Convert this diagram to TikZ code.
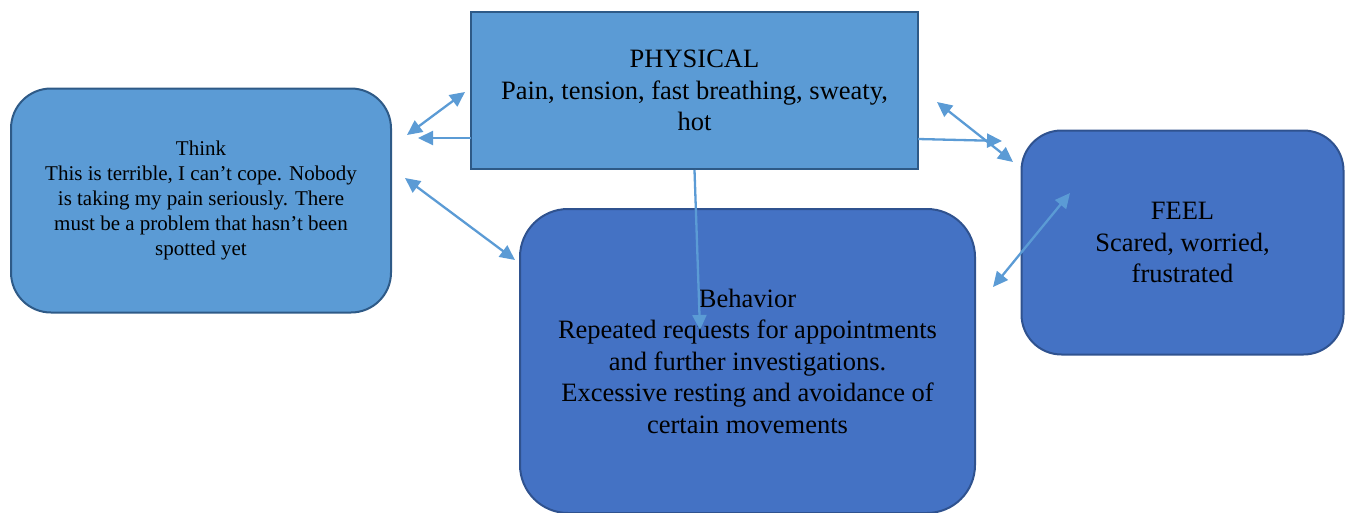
\documentclass[tikz,border=0pt]{standalone}
\usepackage{fontspec}
\setmainfont{Liberation Serif}
\usetikzlibrary{arrows.meta}
\definecolor{lightblue}{HTML}{5B9BD5}
\definecolor{darkblue}{HTML}{4472C4}
\definecolor{lightedge}{HTML}{2E5A87}
\definecolor{darkedge}{HTML}{2F528F}
\tikzset{
  box/.style={draw,line width=2pt,inner sep=0pt,align=center,
    font=\fontsize{26.5}{31.5}\selectfont},
  lightbox/.style={box,fill=lightblue,draw=lightedge},
  darkbox/.style={box,fill=darkblue,draw=darkedge},
  link/.style={draw=lightblue,line width=2.3pt,
    >={Triangle[length=15pt,width=14pt]}}
}
\begin{document}
\begin{tikzpicture}[x=1pt,y=-1pt]
      \useasboundingbox (0,0) rectangle (1351,512);
      \node[lightbox,rounded corners=40pt,minimum width=380pt,minimum height=224pt,
        font=\fontsize{21}{25}\selectfont] (think) at (201,200.5)
        {Think\\This is terrible, I can’t cope. Nobody\\is taking my pain seriously. There\\must be a problem that hasn’t been\\spotted yet};
      \node[lightbox,minimum width=447pt,minimum height=157pt] (phys) at (694.5,90.5)
        {PHYSICAL\\Pain, tension, fast breathing, sweaty,\\hot};
      \node[darkbox,rounded corners=48pt,minimum width=455pt,minimum height=304pt] (behav) at (747.5,361)
        {Behavior\\Repeated requests for appointments\\and further investigations.\\Excessive resting and avoidance of\\certain movements};
      \node[darkbox,rounded corners=40pt,minimum width=322pt,minimum height=224pt] (feel) at (1182.5,242.5)
        {FEEL\\Scared, worried,\\frustrated};
      \def \Ends{
        tp1/407/135,
        tp2/465/92,
        pl1/471/138,
        pl2/418/138,
        pr1/918/139,
        pr2/1002/141,
        pf1/937/102,
        pf2/1013/162,
        fb1/993/287,
        fb2/1070/193,
        tb1/405/178,
        tb2/515/260,
        pb2/700/330}
      \foreach \id / \x / \y in \Ends{
        \coordinate (\id) at (\x, \y);
      }
      \def \Links{
        tp1/tp2/<->,
        pl1/pl2/->,
        pr1/pr2/->,
        pf1/pf2/<->,
        fb1/fb2/<->,
        tb1/tb2/<->,
        phys.south/pb2/->}
      \foreach \x / \y / \tip in \Links{
        \path[link,\tip] (\x) -- (\y);
      }
    \end{tikzpicture}
\end{document}
